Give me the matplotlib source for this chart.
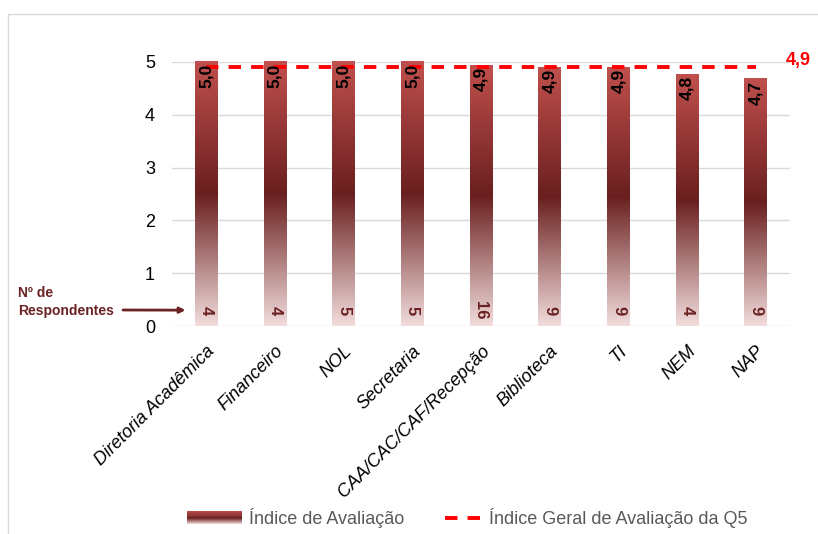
import numpy as np
import matplotlib
matplotlib.use("Agg")
import matplotlib.pyplot as plt
from matplotlib.colors import LinearSegmentedColormap
from matplotlib.patches import Rectangle, Patch
from matplotlib.lines import Line2D
from matplotlib.legend_handler import HandlerBase

plt.rcParams['font.family'] = ['Liberation Sans', 'DejaVu Sans']

# data
categories = ["Diretoria Acadêmica", "Financeiro", "NOL", "Secretaria",
              "CAA/CAC/CAF/Recepção", "Biblioteca", "TI", "NEM", "NAP"]
indice = [5.0, 5.0, 5.0, 5.0, 4.94, 4.9, 4.9, 4.76, 4.68]
respondentes = [4, 4, 5, 5, 16, 9, 9, 4, 9]
indice_geral = 4.9

# bottom -> top gradient of the bars
grad = LinearSegmentedColormap.from_list(
    "barra", [(0.0, "#f2dcdc"), (0.5, "#6a1f1f"), (1.0, "#c0504d")])

fig = plt.figure(figsize=(8.18, 5.34), dpi=100)
ax = fig.add_axes([0.210, 0.3895, 0.756, 0.4945])

x = np.arange(len(categories))
w = 0.33
bars = ax.bar(x, indice, width=w, color="none", edgecolor="none")
g = np.linspace(0, 1, 256).reshape(-1, 1)
for b in bars:
    bx, by = b.get_x(), b.get_y()
    im = ax.imshow(g, cmap=grad, origin="lower", aspect="auto",
                   extent=[bx, bx + b.get_width(), by, by + b.get_height()],
                   zorder=2, clip_on=False)
    im.set_clip_path(b)
    b.set_clip_on(False)

dash = (0, (3.2, 2.6))
ax.plot([x[0], x[-1]], [indice_geral, indice_geral], color="red", lw=2.8,
        ls=dash, zorder=3, clip_on=False)
ax.text(8.43, indice_geral + 0.13, f"{indice_geral:.1f}".replace(".", ","),
        color="red", fontsize=13, fontweight="bold", ha="left", va="center")

for xi, v, n in zip(x, indice, respondentes):
    ax.text(xi, v - 0.03, f"{v:.1f}".replace(".", ","), rotation=90,
            ha="center", va="top", fontsize=12.5, fontweight="bold", zorder=4)
    ax.text(xi, 0.3, str(n), rotation=-90, ha="center", va="center",
            fontsize=12, fontweight="bold", color="#6b2222", zorder=4)

ax.set_xlim(-0.5, 8.5)
ax.set_ylim(0, 5)
ax.set_yticks([0, 1, 2, 3, 4, 5])
ax.yaxis.grid(True, color="#d9d9d9", lw=1)
ax.set_axisbelow(True)
for s in ax.spines.values():
    s.set_visible(False)
ax.tick_params(axis="both", length=0, labelsize=13)
ax.tick_params(axis="y", pad=12)
ax.set_xticks(x)
ax.set_xticklabels(categories, rotation=45, ha="right", rotation_mode="anchor",
                   fontsize=13, style="italic")
ax.tick_params(axis="x", pad=12)

fig.text(18 / 818, 1 - 302 / 534, "Nº de\nRespondentes", ha="left", va="center",
         fontsize=10, fontweight="bold", color="#6b2222", linespacing=1.35)
ax.annotate("", xy=(-0.3, 0.3), xycoords="data",
            xytext=(123 / 818, 1 - 310 / 534), textcoords="figure fraction",
            arrowprops=dict(arrowstyle="-|>", color="#6b2222", lw=2,
                            mutation_scale=8, shrinkA=0, shrinkB=0),
            annotation_clip=False)

# chart border
fig.add_artist(Rectangle((8 / 818, -0.1), 1.2, 1 - 14 / 534 + 0.1,
                         transform=fig.transFigure, fill=False,
                         edgecolor="#d9d9d9", lw=1))


class GradHandler(HandlerBase):
    def create_artists(self, legend, orig, xd, yd, width, height, fontsize, trans):
        arts = []
        n = 12
        for i in range(n):
            c = grad((i + 0.5) / n)
            arts.append(Rectangle((xd, yd + height * i / n), width, height / n,
                                  facecolor=c, edgecolor="none", transform=trans))
        return arts


class ShortDashHandler(HandlerBase):
    def create_artists(self, legend, orig, xd, yd, width, height, fontsize, trans):
        y = yd + height / 2
        ln = Line2D([xd + width * 0.32, xd + width], [y, y], color="red", lw=2.8,
                    ls=dash, transform=trans)
        return [ln]


h1 = Patch(label="Índice de Avaliação")
h2 = Line2D([], [], label="Índice Geral de Avaliação da Q5")
leg = fig.legend([h1, h2], [h1.get_label(), h2.get_label()],
                 handler_map={Patch: GradHandler(), Line2D: ShortDashHandler()},
                 loc="center", bbox_to_anchor=(0.5715, 1 - 518 / 534), ncol=2,
                 frameon=False, fontsize=13, handlelength=3.0,
                 columnspacing=1.3, handletextpad=0.4)
for t in leg.get_texts():
    t.set_color("#595959")

fig.savefig("out.png", dpi=100)
